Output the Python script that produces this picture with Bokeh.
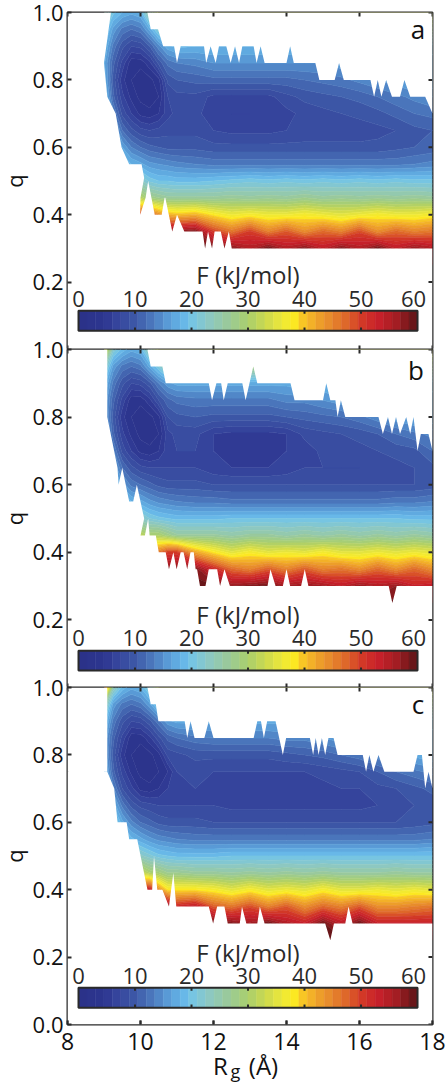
import numpy as np
from bokeh.core.properties import value
from bokeh.embed import file_html
from bokeh.layouts import column
from bokeh.models import FixedTicker, LinearAxis, NumeralTickFormatter, Range1d
from bokeh.plotting import figure
from bokeh.resources import INLINE

RG = [9, 9.25, 9.5, 9.75, 10, 10.25, 10.5, 10.75, 11, 11.5, 12, 12.5, 13, 13.5, 14, 14.5, 15, 15.5, 16, 16.5, 17, 17.5, 18]
Q = [1.0, .95, .9, .85, .8, .75, .7, .65, .6, .55, .5, .45, .4, .35, .3, .25]

F_a = [
 [25,20,18,17,18,26,34,34,34,34,34,34,34,34,34,34,34,34,34,34,34,34,34],
 [21,16,13,12,13,17,22,26,28,28,28,28,28,28,28,28,28,28,28,28,28,28,28],
 [19,13,9.5,7.5,8,10.5,14.5,17.5,18.5,18,18,18,18,18,18,18,18,19,20,20,20,20,20],
 [17,11,7,3.5,3.5,5.5,9.5,12.5,13.5,14,15,15,15,15,15,15,15,16,17,18,19,19,19],
 [18,10,5,3,2,2.5,4,9.5,10.5,11,11.5,11.5,11.5,11.5,11.5,12,12.5,13,14,15,16,17,18],
 [20,11,6.5,4,2.5,2,3,7.5,8.5,8.5,7,7,7,7,8.5,9.5,10,10.5,11,12,13,14,15],
 [22,14,8.5,6,4,3.5,4.5,7,8,8,6.5,6,6,6.5,7,8,8.5,9,9.5,10,11,12,12.5],
 [23,18,12,9.5,8,7.5,8,8.5,8.5,8.5,7.5,7,7,7,7.5,8,8,8,8,8.5,9,10,10.5],
 [26,22,16.5,13.5,12,11,10.5,10,10,10,9.5,9.5,9.5,9.5,9.5,9.5,9.5,9.5,9.5,9.5,10,10.5,11],
 [30,26,20,18,17,15.5,15,14.5,14,13.5,13,13,13,13,13,13,13,13,13,13,13,13.5,14],
 [35,32,28,25,23,20.5,19.5,19.5,19,19,19.5,20,20.5,20,20.5,20,20.5,20,20.5,20,20.5,20,20],
 [40,38,36,33,31,28,27,26,26,26,26,26.5,26,26.5,26,27,26,26.5,26,26.5,26,26.5,26],
 [52,50,50,50,50,48,44,41,40,41,38,36,37,36,36,37,36,35,36,37,36,36,37],
 [58,58,58,58,58,58,58,58,57,58,50,46,50,45,48,44,47,45,49,44,47,45,46],
 [59,59,59,59,59,59,59,59,59,59,59,58,55,59,55,58,54,58,55,59,54,57,55],
 [59,59,59,59,59,59,59,59,59,59,59,59,59,59,59,59,59,59,59,59,59,59,59],
]
F_b = [
 [36,22,19,17,18,25,34,34,34,34,34,34,34,34,34,34,34,34,34,34,34,34,34],
 [24,16,13,12,13,17,21,26,28,28,28,28,28,28,28,28,28,28,28,28,28,28,28],
 [19,13,9.5,7.5,8,10,13.5,16,17,17,17,17,17,17,17,18,18,19,20,20,20,20,20],
 [17,11,7,3.5,3.5,5.5,9,11.5,12.5,13,13,13,13,13,14,14,15,16,17,18,19,19,19],
 [17,10,5,3,2,2.5,4,9,10,10.5,10,10,10,10,10.5,11,11.5,12,13,14.5,16,17,18],
 [19,11,6.5,4,2.5,2,3,7,8,8,6,5.5,5.5,5.5,6,8,8.5,9,9.5,10.5,12,13,14],
 [21,14,8.5,6,4,3.5,4.5,7,7.5,7.5,6,5.5,5.5,5.5,6,6.5,8,8,8.5,9,9.5,10,12],
 [22,17,12,9.5,8,7.5,7.5,7.5,7.5,7.5,6.5,6,6,6,6.5,7.5,7.5,7.5,7.5,8,8.5,9,10],
 [25,21,16,13,12,11,10,9.5,9.5,9.5,9,9,9,9,9,9,9,9,9,9,9,9,9.5],
 [30,25,20,18,17,15.5,14.5,14,13.5,13,13,12.5,12.5,12.5,12.5,12.5,12.5,12.5,12.5,12.5,13,13,13.5],
 [35,32,28,25,23,21,20,19.5,19,19,19,19.5,19.5,19.5,19.5,19.5,19.5,19.5,19.5,19.5,19.5,19,19],
 [40,38,36,34,32,30,30,28,26,26,26,25,26,26,25,26,25,26,25,26,25,26,25],
 [52,50,50,50,50,48,46,50,50,42,38,35,37,35,36,35,37,35,35,36,35,36,35],
 [58,58,58,58,58,58,58,58,58,58,52,47,45,48,45,48,45,46,44,47,44,47,44],
 [59,59,59,59,59,59,59,59,59,59,59,57,58,59,56,57,56,54,57,55,57,53,54],
 [59,59,59,59,59,59,59,59,59,59,59,59,59,59,59,59,59,59,59,59,59,59,59],
]
F_c = [
 [48,24,19,17,18,22,34,34,34,34,34,34,34,34,34,34,34,34,34,34,34,34,34],
 [26,16,13,12,13,16,21,26,28,28,28,28,28,28,28,28,28,28,28,28,28,28,28],
 [20,13,9.5,7.5,8,10,13,16,17,17,17,17,17,17,17,18,18,19,20,20,20,20,20],
 [17,11,7,3.5,3.5,5.5,8.5,11,12,13,13.5,13.5,13.5,13.5,14,14,15,16,17,18,19,19,19],
 [17,10,5,3,2,2.5,4,8,8.5,9.5,9.5,9.5,9.5,9.5,10,10.5,11,12,13,14.5,16,17,18],
 [19,11,7,4,2.5,2,3,4.5,7.5,8,7.5,7.5,7.5,7.5,7.5,7.5,8,8.5,9,10.5,12,13,14],
 [21,14,9,6.5,4,3.5,4.5,6,7,7.5,7,7,7,7,7,7,7,7.5,7.5,8.5,9,10,11],
 [23,18,13,10,8.5,8,7.5,7.5,7.5,7.5,7.5,7,7,7,7,7,7,7,7,7.5,8,9,9.5],
 [26,22,17,14,12,11,10,9.5,9.5,9.5,9,9,9,9,9,9,9,9,9,9,9,9.5,10],
 [31,26,21,18.5,17,15.5,14.5,14,13.5,13,13,13,13,13,13,13,13,13,13,13,13,13,13.5],
 [36,33,29,26,23,21.5,20,19.5,19,19,19,19.5,19.5,19.5,19.5,19.5,19.5,19.5,19.5,19.5,19.5,19.5,19.5],
 [41,39,37,35,33,30,29,27,27,26,26,25.5,26,25.5,26,25.5,26,25.5,25.5,25.5,26,25.5,25.5],
 [52,50,50,50,50,54,44,38,38,38,37,35,37,35,36,35,37,35,35,36,35,36,35],
 [58,58,58,58,58,58,58,58,52,54,48,46,49,45,48,44,47,45,48,44,44,45,46],
 [59,59,59,59,59,59,59,59,59,59,59,58,56,59,55,53,59,54,59,53,53,53,53],
 [59,59,59,59,59,59,59,59,59,59,59,59,59,59,59,59,59,59,59,59,59,59,59],
]

TOP_a = [(8,.85),(9,.85),(9.19,1),(10.19,1),(10.28,.95),(10.48,.95),(10.62,.9),(10.92,.9),(11,.85),(11.1,.9),(11.74,.9),(11.8,.85),(11.92,.9),(12.06,.85),(12.15,.9),(12.35,.9),(12.47,.85),(12.59,.9),(12.7,.85),(12.79,.9),(13.1,.9),(13.18,.85),(13.29,.9),(13.4,.85),(14,.85),(14.1,.9),(14.2,.85),(14.79,.85),(14.9,.8),(15.32,.8),(15.44,.85),(15.57,.8),(16.3,.8),(16.4,.75),(16.5,.8),(16.6,.75),(16.73,.8),(16.89,.75),(17.11,.75),(17.23,.8),(17.39,.75),(17.8,.75),(18,.7)]
BOT_a = [(8,.85),(9,.85),(9.09,.75),(9.32,.7),(9.48,.6),(9.69,.55),(10.03,.55),(10.1,.51),(10.0,.45),(9.99,.4),(10.14,.45),(10.21,.5),(10.39,.4),(10.58,.4),(10.66,.45),(10.68,.45),(10.87,.35),(11.0,.4),(11.2,.35),(11.7,.35),(11.77,.3),(11.85,.35),(11.96,.3),(12.03,.35),(12.2,.35),(12.3,.3),(12.42,.35),(12.5,.3),(18,.3)]
TOP_b = [(8,.8),(9.09,.8),(9.09,1),(10.19,1),(10.28,.95),(10.6,.95),(10.69,.9),(11.87,.9),(11.96,.85),(12.08,.9),(12.21,.9),(12.28,.85),(12.39,.9),(12.79,.9),(12.88,.85),(13.09,.95),(13.2,.9),(14.11,.9),(14.22,.85),(15,.85),(15.09,.9),(15.2,.85),(15.34,.85),(15.4,.8),(15.49,.85),(15.61,.8),(16.52,.8),(16.64,.75),(16.78,.8),(16.89,.75),(17,.8),(17.11,.75),(17.28,.8),(17.39,.75),(17.48,.8),(17.59,.7),(17.68,.75),(17.89,.75),(18,.7)]
BOT_b = [(8,.8),(9.09,.8),(9.37,.65),(9.4,.6),(9.5,.65),(9.69,.55),(9.8,.55),(9.9,.6),(10.1,.5),(10.0,.45),(10.12,.45),(10.21,.5),(10.25,.45),(10.42,.45),(10.5,.4),(10.69,.4),(10.78,.35),(10.9,.4),(10.99,.35),(11.1,.4),(11.18,.4),(11.28,.35),(11.37,.4),(11.46,.4),(11.51,.35),(11.55,.35),(11.63,.3),(11.78,.3),(11.87,.35),(12.1,.35),(12.18,.3),(12.3,.35),(12.45,.3),(13.48,.3),(13.56,.35),(13.7,.3),(13.9,.3),(14,.35),(14.1,.3),(14.4,.3),(14.5,.35),(14.6,.3),(16.8,.3),(16.9,.25),(17.02,.3),(18,.3)]
TOP_c = [(8,.75),(9.09,.75),(9.09,1),(10.19,1),(10.28,.95),(10.42,.95),(10.49,.9),(11.21,.9),(11.28,.85),(11.37,.9),(11.48,.85),(11.75,.85),(11.87,.9),(12,.85),(13.1,.85),(13.2,.9),(13.3,.9),(13.38,.85),(13.47,.9),(13.7,.9),(13.9,.8),(13.99,.85),(14.64,.85),(14.73,.8),(14.8,.85),(14.88,.8),(14.97,.85),(15.06,.8),(15.15,.85),(15.29,.85),(15.4,.8),(16.09,.8),(16.18,.75),(16.27,.8),(16.38,.75),(16.52,.8),(16.68,.75),(17.48,.75),(17.59,.8),(17.71,.8),(17.8,.7),(17.89,.75),(18,.7)]
BOT_c = [(8,.75),(9.09,.75),(9.28,.7),(9.37,.6),(9.62,.6),(9.69,.55),(9.91,.55),(10.19,.4),(10.32,.4),(10.37,.5),(10.46,.4),(10.6,.4),(10.78,.35),(10.9,.45),(10.98,.35),(11.87,.35),(11.99,.3),(12.1,.35),(12.3,.35),(12.39,.3),(12.72,.3),(12.78,.35),(12.9,.3),(13.2,.3),(13.27,.35),(13.4,.3),(15.06,.3),(15.2,.25),(15.3,.3),(15.61,.3),(15.7,.35),(15.81,.3),(18,.3)]

Q_TICKS_TOP = [.2, .4, .6, .8, 1.0]
Q_TICKS_BOTTOM = [0, .2, .4, .6, .8, 1.0]
RG_TICKS = [8, 10, 12, 14, 16, 18]
CB_TICKS = [0, 10, 20, 30, 40, 50, 60]

STOPS = [(0,"#2b3188"),(4.5,"#2c368f"),(6,"#333f9a"),(10,"#3d58a7"),(13,"#4b78bd"),(16,"#5a9dd8"),(18.5,"#66b6e8"),(20,"#75c5e5"),(23,"#8cc8c4"),(26,"#98c9a0"),(30,"#a9cf6e"),(33,"#cbd84f"),(36,"#ece83a"),(38,"#fcee21"),(39.5,"#f9c924"),(42,"#f0a72a"),(45,"#e5842c"),(48,"#dc5f29"),(50,"#d33a27"),(53,"#c8202a"),(56,"#a81e24"),(58,"#82191d"),(60,"#5a1417")]

FONT = "Open Sans"
INK = "#2a2a2a"
TEXT = "#111111"
levels = np.arange(0, 60.01, 1.5)
mids = (levels[:-1] + levels[1:]) / 2
sx = [s[0] for s in STOPS]
rgb = [[int(s[1][i:i+2], 16) for s in STOPS] for i in (1, 3, 5)]
palette = ["#%02x%02x%02x" % tuple(int(round(np.interp(m, sx, c))) for c in rgb) for m in mids]


def panel(F, top, bot, letter, letter_xy, cb_y, lab_y, title_y, ticks, h, mt, mb, margin_top, xlabels):
    p = figure(width=458, height=h, x_range=(8, 18), y_range=(0, 1), output_backend="svg",
               toolbar_location=None, min_border_left=72, min_border_right=16,
               min_border_top=mt, min_border_bottom=mb, x_axis_location=None, y_axis_location=None,
               margin=(margin_top, 0, 0, -5))
    p.grid.visible = False
    p.background_fill_color = "white"
    p.border_fill_alpha = 0
    p.outline_line_color = INK
    p.outline_line_width = 2
    p.extra_x_ranges["cb"] = Range1d(-1.947, 62.65)

    p.contour(RG, Q[::-1], np.array(F, dtype=float)[::-1], levels, fill_color=palette,
              line_color=palette + [palette[-1]], line_width=.8)
    for bd, edge in ((top, 1.0), (bot, 0.0)):
        xs = [b[0] for b in bd] + [18, 8]
        ys = [b[1] for b in bd] + [edge, edge]
        p.patch(xs, ys, fill_color="white", line_color=None)

    tick_q, tick_x = .012, .11
    p.segment(RG_TICKS, [1] * 6, RG_TICKS, [1 - tick_q] * 6, line_color=INK, line_width=2)
    p.segment(RG_TICKS, [0] * 6, RG_TICKS, [tick_q] * 6, line_color=INK, line_width=2)
    p.segment([18] * len(ticks), ticks, [18 - tick_x] * len(ticks), ticks, line_color=INK, line_width=2)

    p.quad(left=levels[:-1], right=levels[1:], bottom=cb_y, top=cb_y + .059, fill_color=palette,
           line_color=palette, line_width=.5, x_range_name="cb")
    p.quad(left=[0], right=[60], bottom=[cb_y], top=[cb_y + .059], fill_color=None, line_color=INK,
           line_width=2, x_range_name="cb")
    p.segment(CB_TICKS[1:-1], [cb_y] * 5, CB_TICKS[1:-1], [cb_y + .009] * 5, line_color=INK, line_width=2, x_range_name="cb")
    p.segment(CB_TICKS[1:-1], [cb_y + .059] * 5, CB_TICKS[1:-1], [cb_y + .05] * 5, line_color=INK, line_width=2, x_range_name="cb")
    for t in CB_TICKS:
        p.text([t - (.7 if t == 60 else 0)], [lab_y], text=[str(t)], text_font=value(FONT), text_font_size="22px",
               text_align="center", text_baseline="middle", text_color=INK, x_range_name="cb")
    p.text([30], [title_y], text=["F (kJ/mol)"], text_font=value(FONT), text_font_size="24px", text_align="center",
           text_baseline="middle", text_color=INK, x_range_name="cb")
    p.text([letter_xy[0]], [letter_xy[1]], text=[letter], text_font=value(FONT), text_font_size="26px",
           text_align="center", text_baseline="middle", text_color=TEXT)

    left = LinearAxis(ticker=FixedTicker(ticks=ticks), formatter=NumeralTickFormatter(format="0.0"),
                      major_label_text_font=FONT, major_label_text_font_size="22px",
                      major_label_text_color=TEXT, major_tick_in=4, major_tick_out=0, minor_tick_line_color=None,
                      major_tick_line_width=2, major_tick_line_color=INK, axis_line_color=None, major_label_standoff=4,
                      axis_label="q", axis_label_text_font=FONT, axis_label_text_font_size="22px",
                      axis_label_text_font_style="normal", axis_label_text_color=TEXT, axis_label_standoff=1)
    p.add_layout(left, "left")
    if xlabels:
        below = LinearAxis(ticker=FixedTicker(ticks=RG_TICKS), major_tick_in=4, major_tick_out=0,
                           minor_tick_line_color=None, major_tick_line_width=2, major_tick_line_color=INK,
                           axis_line_color=None, major_label_standoff=8, major_label_text_font=FONT,
                           major_label_text_font_size="23px", major_label_text_color=TEXT)
        p.add_layout(below, "below")
    return p


pa = panel(F_a, TOP_a, BOT_a, "a", (17.6, .95), .056, .151, .2225, Q_TICKS_TOP, 349, 12, 0, 0, False)
pb = panel(F_b, TOP_b, BOT_b, "b", (17.55, .94), .05, .145, .216, Q_TICKS_TOP, 354, 16, 0, -16, False)
pc = panel(F_c, TOP_c, BOT_c, "c", (17.6, .95), .05, .145, .2136, Q_TICKS_BOTTOM, 387, 16, 34, -16, True)

strip = figure(width=458, height=43, x_range=(8, 18), y_range=(43, 0), output_backend="svg", toolbar_location=None,
               min_border_left=72, min_border_right=16, min_border_top=0, min_border_bottom=0,
               x_axis_location=None, y_axis_location=None, outline_line_color=None, margin=(-14, 0, 0, -5))
strip.grid.visible = False
strip.border_fill_alpha = 0
strip.background_fill_alpha = 0
for txt, x, y, size in (("R", 12.19, 21, "24px"), ("g", 12.6, 26, "18px"), ("(Å)", 13.37, 21, "24px")):
    strip.text([x], [y], text=[txt], text_font=value(FONT), text_font_size=size, text_color=TEXT,
               text_align="center", text_baseline="alphabetic")

page = column(pa, pb, pc, strip, spacing=0)
open("out.html", "w").write(file_html(page, INLINE))
